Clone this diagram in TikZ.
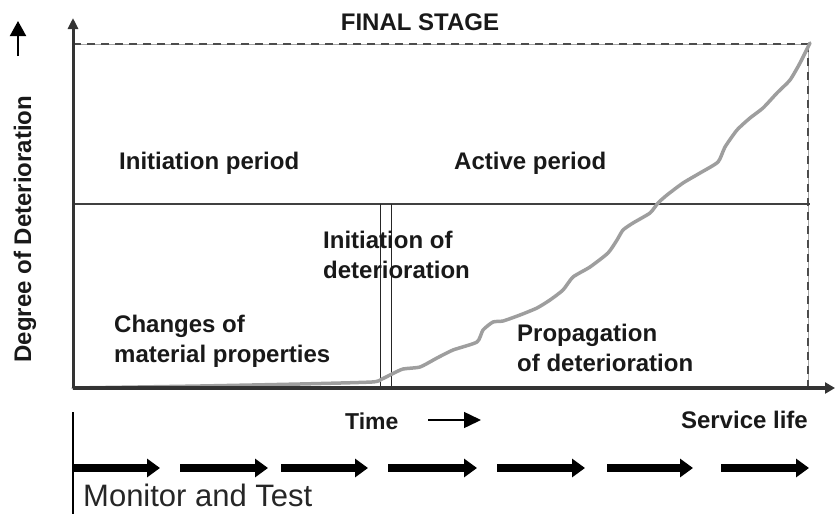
\documentclass[tikz,border=0pt]{standalone}
\usepackage{fontspec}
\setmainfont{Liberation Sans}
\usetikzlibrary{arrows.meta}
\begin{document}
\begin{tikzpicture}[x=1pt,y=-1pt,
  lbl/.style={font=\fontsize{24}{30}\selectfont\bfseries, inner sep=0pt, text=black!90, align=left},
  axis/.style={line width=3pt, draw=black!80, -{Triangle[length=11pt,width=10pt]}},
  fatarrow/.style={line width=8pt, draw=black, -{Triangle[length=13pt,width=18pt]}},
  gridline/.style={line width=1.5pt, draw=black!75},
  thinline/.style={line width=1pt, draw=black!85},
  dashline/.style={line width=2pt, draw=black!70, dash pattern=on 8pt off 6pt},
  dashbase/.style={line width=1pt, draw=black!35},
  curve/.style={line width=3.5pt, draw=black!38, line join=round, line cap=round}]
\useasboundingbox (0,0) rectangle (835,514);

% coordinates
\coordinate (O) at (73,388);
\coordinate (Ytop) at (73,18);
\coordinate (Xend) at (835,388);
\coordinate (TL) at (73,44);
\coordinate (TR) at (808,44);
\coordinate (BR) at (808,388);
\coordinate (ML) at (73,204);
\coordinate (MR) at (810,204);
\coordinate (V1t) at (380,204);
\coordinate (V1b) at (380,388);
\coordinate (V2t) at (391,204);
\coordinate (V2b) at (391,388);
\coordinate (Lt) at (73,412);
\coordinate (Lb) at (73,514);
\coordinate (UA1) at (18,56);
\coordinate (UA2) at (18,21);

% dashed final-stage box
\draw[dashbase] (TL) -- (TR) -- (BR);
\draw[dashline] (TL) -- (TR);
\draw[dashline] (TR) -- (BR);

% middle line and initiation lines
\draw[gridline] (ML) -- (MR);
\draw[thinline] (V1t) -- (V1b);
\draw[thinline] (V2t) -- (V2b);

% deterioration curve
\draw[curve] plot[smooth, tension=0.35] coordinates {
 (73,388) (200,386) (300,384) (372,382) (382,379) (392,374) (403,369) (420,367)
 (437,358) (453,350) (477,342) (483,330) (493,322) (503,321) (520,315) (537,308)
 (550,300) (563,290) (573,277) (590,267) (608,253) (617,240) (623,230) (633,223)
 (650,213) (658,203) (667,195) (683,183) (700,173) (718,162) (725,147) (737,130)
 (750,118) (763,108) (777,93) (790,80) (800,63) (810,43)};

% axes
\draw[axis] (O) -- (Ytop);
\draw[line width=4pt, draw=black!80, -{Triangle[length=10pt,width=11pt]}] (O) -- (Xend);

% left up arrow
\draw[line width=2pt, draw=black, -{Triangle[length=15pt,width=16pt]}] (UA1) -- (UA2);

% labels
\node[lbl, rotate=90] (deg) at (25,229) {Degree of Deterioration};
\node[lbl] (final) at (420,22) {FINAL STAGE};
\node[lbl, anchor=west] (initp) at (119,163) {Initiation period};
\node[lbl, anchor=west] (actp) at (454,163) {Active period};
\node[lbl, anchor=west] (initd) at (323,255) {Initiation of\\deterioration};
\node[lbl, anchor=west] (chg) at (114,341) {Changes of\\material properties};
\node[lbl, anchor=west] (prop) at (517,348) {Propagation\\of deterioration};
\node[lbl, font=\fontsize{23}{28}\selectfont\bfseries, anchor=west] (time) at (345,421) {Time};
\node[lbl, anchor=east] (serv) at (808,420) {Service life};

% time arrow
\coordinate (Ta) at (428,420);
\coordinate (Tb) at (481,420);
\draw[line width=1.5pt, draw=black, -{Triangle[length=17pt,width=16pt]}] (Ta) -- (Tb);

% lower left line
\draw[line width=1.5pt, draw=black] (Lt) -- (Lb);

% monitor arrows
\foreach \a/\b [count=\i] in {73/160, 180/268, 281/368, 388/477, 497/585, 607/693, 721/809} {
  \coordinate (m\i a) at (\a,468);
  \coordinate (m\i b) at (\b,468);
  \draw[fatarrow] (m\i a) -- (m\i b);
}

\node[font=\fontsize{31}{36}\selectfont, inner sep=0pt, text depth=0pt, anchor=base west, text=black!85] (mon) at (83,506) {Monitor and Test};
\end{tikzpicture}
\end{document}
